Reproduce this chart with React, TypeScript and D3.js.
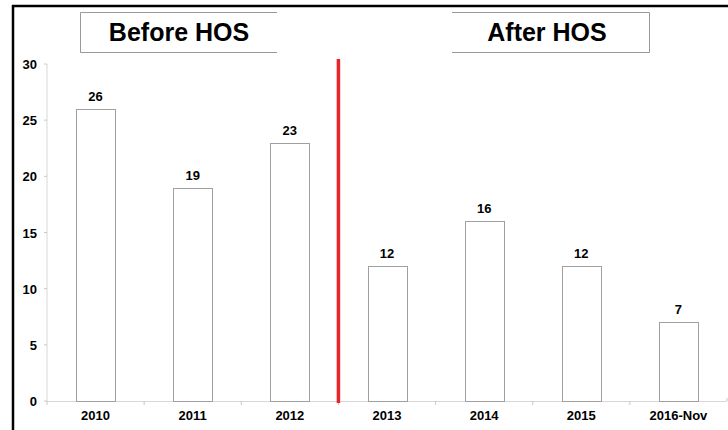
import React from "react";
import * as d3 from "d3";

const categories = ["2010", "2011", "2012", "2013", "2014", "2015", "2016-Nov"];
const values = [26, 19, 23, 12, 16, 12, 7];
const yTicks = [0, 5, 10, 15, 20, 25, 30];
const dividerAfter = "2012";
const periodLabels = ["Before HOS", "After HOS"];

const W = 728;
const H = 430;
const FONT = "Arial, 'Liberation Sans', Helvetica, sans-serif";

export default function App() {
  const x = d3
    .scaleBand<string>()
    .domain(categories)
    .range([47, 727])
    .paddingInner(0.6)
    .paddingOuter(0.3);
  const y = d3.scaleLinear().domain([0, 30]).range([401, 64]);
  const step = x.step();
  const x0 = 47;
  const boundaries = d3.range(categories.length + 1).map((i) => x0 + i * step);
  const divIdx = categories.indexOf(dividerAfter) + 1;
  const divX = x0 + divIdx * step;

  return (
    <svg
      width={W}
      height={H}
      style={{ position: "absolute", left: 0, top: 0, background: "#fff" }}
      fontFamily={FONT}
    >
      <rect x={0} y={0} width={W} height={H} fill="#fff" />
      {/* outer frame */}
      <line x1={12} x2={W} y1={6} y2={6} stroke="#000" strokeWidth={2.5} />
      <line x1={13} x2={13} y1={5} y2={H} stroke="#000" strokeWidth={2.5} />

      {/* title boxes */}
      <path d="M277,12.5 H80.5 V52.5 H277" fill="none" stroke="#999" strokeWidth={1} />
      <text x={179} y={41} textAnchor="middle" fontSize={25} fontWeight="bold" fill="#000">
        {periodLabels[0]}
      </text>
      <path d="M452,12.5 H649.5 V52.5 H452" fill="none" stroke="#999" strokeWidth={1} />
      <text x={547} y={41} textAnchor="middle" fontSize={25} fontWeight="bold" fill="#000">
        {periodLabels[1]}
      </text>

      {/* y axis */}
      <line x1={x0} x2={x0} y1={y(30)} y2={y(0)} stroke="#d8d8d8" strokeWidth={1} />
      {yTicks.map((t) => (
        <g key={t}>
          <line x1={x0 - 3} x2={x0} y1={y(t)} y2={y(t)} stroke="#c8c8c8" />
          <text x={37} y={y(t) + 5} textAnchor="end" fontSize={13} fontWeight="bold" fill="#000">
            {t}
          </text>
        </g>
      ))}

      {/* x axis */}
      <line x1={x0} x2={727} y1={y(0) + 0.5} y2={y(0) + 0.5} stroke="#d8d8d8" strokeWidth={1} />
      {boundaries.map((b, i) => (
        <line key={i} x1={b} x2={b} y1={y(0)} y2={y(0) + (i === boundaries.length - 1 ? -3 : 4)} stroke="#c8c8c8" />
      ))}
      {categories.map((c) => (
        <text
          key={c}
          x={(x(c) as number) + x.bandwidth() / 2}
          y={419.5}
          textAnchor="middle"
          fontSize={13}
          fontWeight="bold"
          fill="#000"
        >
          {c}
        </text>
      ))}

      {/* bars */}
      {categories.map((c, i) => {
        const bx = x(c) as number;
        const by = y(values[i]);
        return (
          <g key={c}>
            <rect
              x={Math.round(bx) + 0.5}
              y={Math.round(by) + 0.5}
              width={Math.round(x.bandwidth())}
              height={y(0) - Math.round(by)}
              fill="#fff"
              stroke="#a0a0a0"
              strokeWidth={1}
            />
            <text
              x={bx + x.bandwidth() / 2}
              y={by - 8}
              textAnchor="middle"
              fontSize={13}
              fontWeight="bold"
              fill="#000"
            >
              {values[i]}
            </text>
          </g>
        );
      })}

      {/* divider */}
      <line x1={divX} x2={divX} y1={59} y2={y(0) + 2} stroke="#e8252b" strokeWidth={3.5} />
    </svg>
  );
}
